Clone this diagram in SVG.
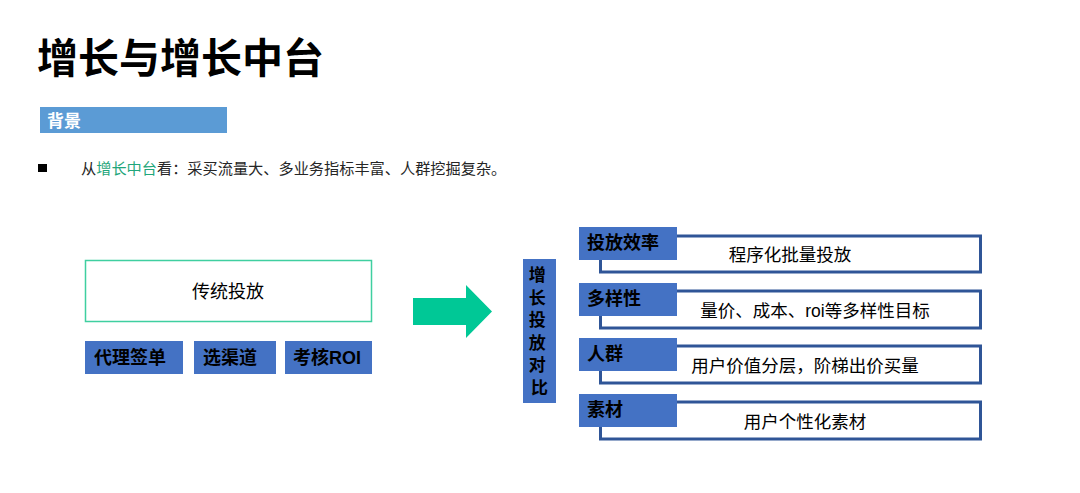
<svg xmlns="http://www.w3.org/2000/svg" width="1080" height="493" viewBox="0 0 1080 493">
<style>
text{font-family:"Liberation Sans","Noto Sans CJK SC",sans-serif}
.title{font-size:41px;font-weight:bold;fill:#000}
.tab{fill:#4472c4}
.tabt{font-size:18px;font-weight:bold;fill:#000}
.box{fill:#fff;stroke:#2f5597;stroke-width:3}
.bt{font-size:17.5px;fill:#000;text-anchor:middle}
.btn{fill:#4472c4}
.btnt{font-size:18px;font-weight:bold;fill:#000}
</style>
<rect width="1080" height="493" fill="#fff"/>
<g id="title"><text class="title" x="37" y="73">增长与增长中台</text></g>
<g id="background-tag">
<rect x="40" y="107" width="187" height="26" fill="#5b9bd5"/>
<text x="47" y="127" font-size="17" font-weight="bold" fill="#fff">背景</text>
</g>
<g id="bullet">
<rect x="38" y="164" width="9" height="8" fill="#000"/>
<text x="81" y="174" font-size="15.2" fill="#262626">从<tspan fill="#1fa67a">增长中台</tspan>看：采买流量大、多业务指标丰富、人群挖掘复杂。</text>
</g>
<g id="traditional">
<rect x="85.5" y="260.5" width="286" height="61" fill="#fff" stroke="#3fcfa0" stroke-width="1.5"/>
<text x="228" y="298" font-size="18" fill="#000" text-anchor="middle">传统投放</text>
</g>
<g id="btn-agent">
<rect class="btn" x="85" y="341" width="98" height="33"/>
<text class="btnt" x="94" y="364">代理签单</text>
</g>
<g id="btn-channel">
<rect class="btn" x="194" y="341" width="82" height="33"/>
<text class="btnt" x="203" y="364">选渠道</text>
</g>
<g id="btn-roi">
<rect class="btn" x="285" y="341" width="87" height="33"/>
<text class="btnt" x="293" y="364">考核ROI</text>
</g>
<g id="connectors">
<polygon points="413,298 466,298 466,285 492,311.5 466,338 466,325 413,325" fill="#00c896"/>
</g>
<g id="compare">
<rect x="523" y="259" width="33" height="144" fill="#4472c4"/>
<text font-size="17" font-weight="bold" fill="#000" text-anchor="middle">
<tspan x="539.5" y="281">增</tspan>
<tspan x="539.5" y="303.5">长</tspan>
<tspan x="539.5" y="326">投</tspan>
<tspan x="539.5" y="348.5">放</tspan>
<tspan x="539.5" y="371">对</tspan>
<tspan x="539.5" y="393.5">比</tspan>
</text>
</g>
<g id="efficiency">
<rect class="box" x="600.5" y="236" width="380" height="36"/>
<rect class="tab" x="579" y="227" width="98" height="33"/>
<text class="tabt" x="587" y="249">投放效率</text>
<text class="bt" x="790" y="261">程序化批量投放</text>
</g>
<g id="diversity">
<rect class="box" x="600.5" y="291" width="380" height="37"/>
<rect class="tab" x="579" y="283" width="98" height="33"/>
<text class="tabt" x="587" y="305">多样性</text>
<text class="bt" x="815" y="317">量价、成本、roi等多样性目标</text>
</g>
<g id="crowd">
<rect class="box" x="600.5" y="346" width="380" height="37"/>
<rect class="tab" x="579" y="338" width="98" height="33"/>
<text class="tabt" x="587" y="360">人群</text>
<text class="bt" x="805" y="372">用户价值分层，阶梯出价买量</text>
</g>
<g id="material">
<rect class="box" x="600.5" y="402" width="380" height="37"/>
<rect class="tab" x="579" y="394" width="98" height="33"/>
<text class="tabt" x="587" y="416">素材</text>
<text class="bt" x="805" y="428">用户个性化素材</text>
</g>
</svg>
